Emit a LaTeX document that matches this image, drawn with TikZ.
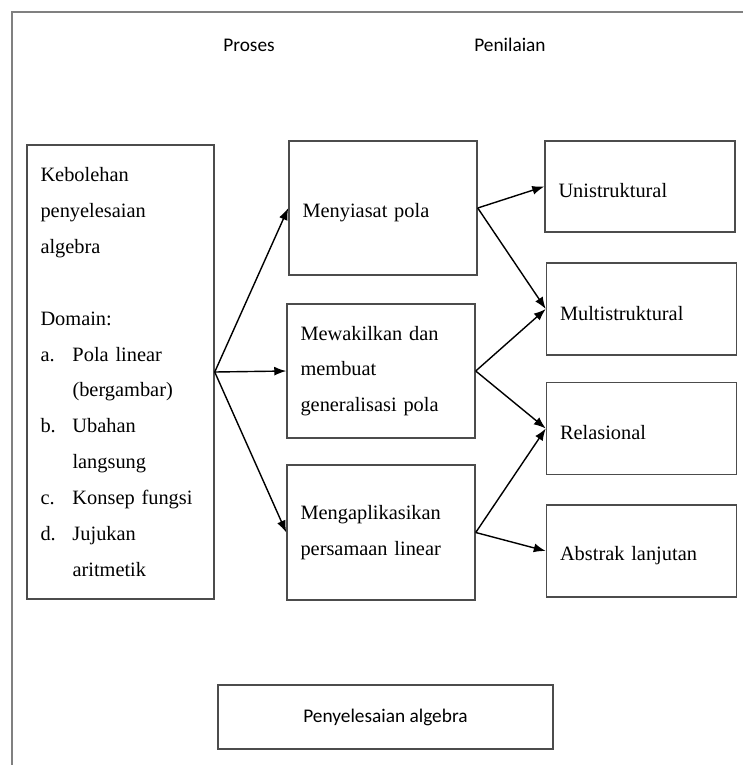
\documentclass[tikz,border=0pt]{standalone}
\usepackage{fontspec}
\setmainfont{Liberation Serif}
\newfontfamily\calfont{Carlito}
\usetikzlibrary{arrows.meta}

\newcommand{\itm}[1]{\makebox[0.64cm][l]{#1}}
\newcommand{\ind}{\hspace*{0.64cm}}

\tikzset{
  box/.style={draw=black!70, line width=0.85pt, rectangle, align=left,
    inner xsep=0.27cm, text width=3.22cm,
    font=\fontsize{11.6pt}{20.4pt}\selectfont},
  tall/.style={box, minimum height=2.68cm},
  short/.style={box, text width=3.26cm, minimum height=1.84cm, text height=0.45cm},
  link/.style={-{Latex[length=2.4mm,width=1.8mm]}, line width=0.8pt},
  head/.style={font=\calfont\fontsize{11pt}{13pt}\selectfont},
}

\begin{document}
\begin{tikzpicture}[x=0.02cm, y=-0.02cm]
        \useasboundingbox (0,0) rectangle (743,765);
        \draw[black!50, line width=0.8pt] (12,765) -- (12,12) -- (743,12);
        \node[head] (proses) at (249,45) {Proses};
        \node[head] (penilaian) at (510,45) {Penilaian};
        \node[box, text width=3.2cm, minimum height=9.08cm] (kebolehan) at (120.5,372)
          {Kebolehan\\penyelesaian\\algebra\\[20.4pt]
           Domain:\\
           \itm{a.}Pola linear\\ \ind(bergambar)\\
           \itm{b.}Ubahan\\ \ind langsung\\
           \itm{c.}Konsep fungsi\\
           \itm{d.}Jujukan\\ \ind aritmetik};
        \node[tall, text height=0.45cm] (menyiasat) at (383,208) {Menyiasat pola};
        \node[tall] (mewakil) at (381,371) {Mewakilkan dan\\membuat\\generalisasi pola};
        \node[tall, minimum height=2.7cm] (aplikasi) at (381,532.5) {Mengaplikasikan\\persamaan linear};
        \node[short, minimum height=1.82cm] (uni) at (640,186.5) {Unistruktural};
        \node[short] (multi) at (641.5,309) {Multistruktural};
        \node[short] (rel) at (641.5,428.5) {Relasional};
        \node[short] (abstrak) at (641.5,551) {Abstrak lanjutan};
        \node[head, draw=black!70, line width=0.85pt, minimum width=6.7cm, minimum height=1.28cm] (hasil) at (385.5,717) {Penyelesaian algebra};
        \draw[link] (kebolehan.east) -- (menyiasat.west);
        \draw[link] (kebolehan.east) -- (mewakil.west);
        \draw[link] (kebolehan.east) -- (aplikasi.west);
        \draw[link] (menyiasat.east) -- (uni.west);
        \draw[link] (menyiasat.east) -- (multi.west);
        \draw[link] (mewakil.east) -- (multi.west);
        \draw[link] (mewakil.east) -- (rel.west);
        \draw[link] (aplikasi.east) -- (rel.west);
        \draw[link] (aplikasi.east) -- (abstrak.west);
      \end{tikzpicture}
\end{document}
